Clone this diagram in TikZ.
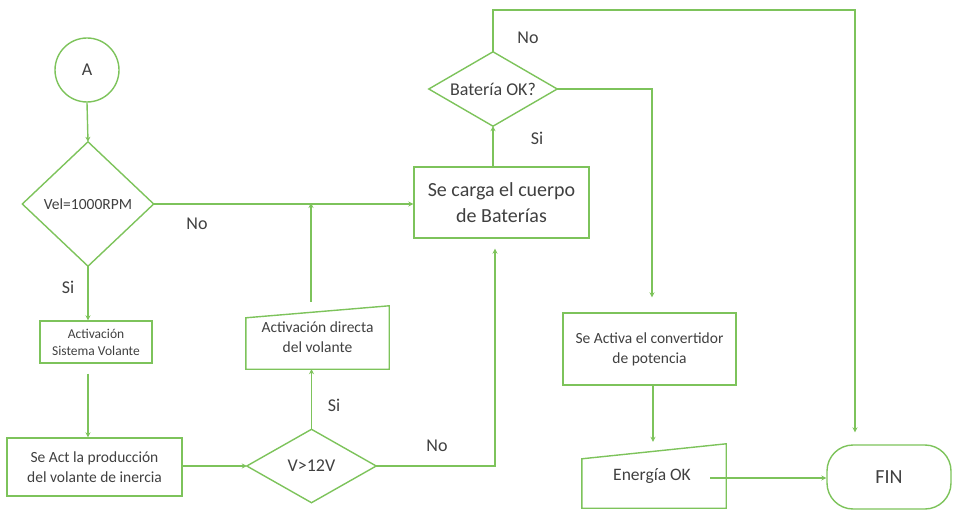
\documentclass[tikz,border=0pt]{standalone}
\usepackage{fontspec}
\setmainfont{Carlito}
\usetikzlibrary{arrows.meta,calc}

\definecolor{flowgreen}{HTML}{7DC35B}
\definecolor{flowtext}{HTML}{404040}

\tikzset{
  box/.style={draw=flowgreen, line width=1.4pt, rectangle, inner sep=0pt, align=center, text=flowtext},
  ghost/.style={rectangle, inner sep=0pt, align=center, text=flowtext},
  flow/.style={draw=flowgreen, line width=1.4pt, -{Stealth[length=5pt,width=5pt]}},
  line/.style={draw=flowgreen, line width=1.4pt},
  lbl/.style={text=flowtext, font=\fontsize{18}{20}\selectfont},
}

\begin{document}
\begin{tikzpicture}[x=1pt,y=-1pt]
\useasboundingbox (0,0) rectangle (955,510);

% start connector
\node[box, circle, minimum size=64pt, font=\fontsize{18}{20}\selectfont] (A) at (87,70) {A};

% decision: speed
\node[ghost, minimum width=131pt, minimum height=124pt, font=\fontsize{15.5}{17}\selectfont] (vel) at (88,204) {Vel=1000RPM};
\draw[line] (vel.north) -- (vel.east) -- (vel.south) -- (vel.west) -- cycle;

% process boxes on the left
\node[box, minimum width=112pt, minimum height=42pt, font=\fontsize{13.5}{17}\selectfont] (act) at (96,342) {Activación\\Sistema Volante};
\node[box, minimum width=175pt, minimum height=58pt, font=\fontsize{15.5}{20}\selectfont] (prod) at (94.5,467) {Se Act la producción\\del volante de inercia};

% decision: voltage
\node[ghost, minimum width=129pt, minimum height=73pt, font=\fontsize{18}{20}\selectfont] (v12) at (311.5,466) {V>12V};
\draw[line] (v12.north) -- (v12.east) -- (v12.south) -- (v12.west) -- cycle;

% manual input: direct activation
\node[ghost, minimum width=143pt, minimum height=63pt, font=\fontsize{15.5}{20}\selectfont] (dir) at (317.5,337.5) {Activación directa\\del volante};
\draw[line] ($(dir.north west)+(0,12)$) -- (dir.north east) -- (dir.south east) -- (dir.south west) -- cycle;

% battery charging
\node[box, minimum width=175pt, minimum height=71pt, font=\fontsize{20}{26}\selectfont] (carga) at (501.5,202.5) {Se carga el cuerpo\\de Baterías};

% decision: battery
\node[ghost, minimum width=128pt, minimum height=74pt, font=\fontsize{18}{20}\selectfont] (bat) at (493,89) {Batería OK?};
\draw[line] (bat.north) -- (bat.east) -- (bat.south) -- (bat.west) -- cycle;

% power converter
\node[box, minimum width=173pt, minimum height=72pt, font=\fontsize{15.5}{20}\selectfont] (conv) at (649.5,349) {Se Activa el convertidor\\de potencia};

% manual input: energy ok
\node[ghost, minimum width=144pt, minimum height=64pt, font=\fontsize{17.5}{20}\selectfont] (ener) at (654,476) {\hspace*{-4pt}Energía OK};
\draw[line] ($(ener.north west)+(0,15)$) -- (ener.north east) -- (ener.south east) -- (ener.south west) -- cycle;

% terminator
\node[box, rounded corners=26pt, minimum width=124pt, minimum height=64pt, font=\fontsize{20}{22}\selectfont] (fin) at (889,477) {FIN};

% routing points
\coordinate (j) at (311,203);
\coordinate (k) at (495,466);
\coordinate (t) at (855,10);
\coordinate (r) at (652,89);
\coordinate (c) at (653,0);
\coordinate (e) at (710,478);

% connectors
\draw[flow] (A.south) -- (vel.north);
\draw[flow] (vel.east) -- (carga.west |- vel.east);
\draw[flow] (vel.south) -- (vel.south |- act.north);
\draw[flow, shorten <=10pt] (vel.south |- act.south) -- (vel.south |- prod.north);
\draw[flow] (prod.east |- v12.west) -- (v12.west);
\draw[flow] (v12.north) -- (v12.north |- dir.south);
\draw[flow, shorten <=4pt] (j |- dir.north) -- (j);
\draw[flow, shorten >=10pt] (v12.east) -- (k) -- (k |- carga.south);
\draw[flow] (bat.south |- carga.north) -- (bat.south);
\draw[flow, shorten >=12pt] (bat.north) |- (t) -- (t |- fin.north);
\draw[flow, shorten >=15pt] (bat.east) -- (r) -- (r |- conv.north);
\draw[flow, shorten >=2pt] (c |- conv.south) -- (c |- ener.north);
\draw[flow] (e) -- (fin.west |- e);

% branch labels
\node[lbl] (no1) at (197,224) {No};
\node[lbl] (si1) at (68,287) {Si};
\node[lbl] (si2) at (334,405) {Si};
\node[lbl] (no2) at (437,446) {No};
\node[lbl] (si3) at (537,138) {Si};
\node[lbl] (no3) at (528,38) {No};
\end{tikzpicture}
\end{document}
